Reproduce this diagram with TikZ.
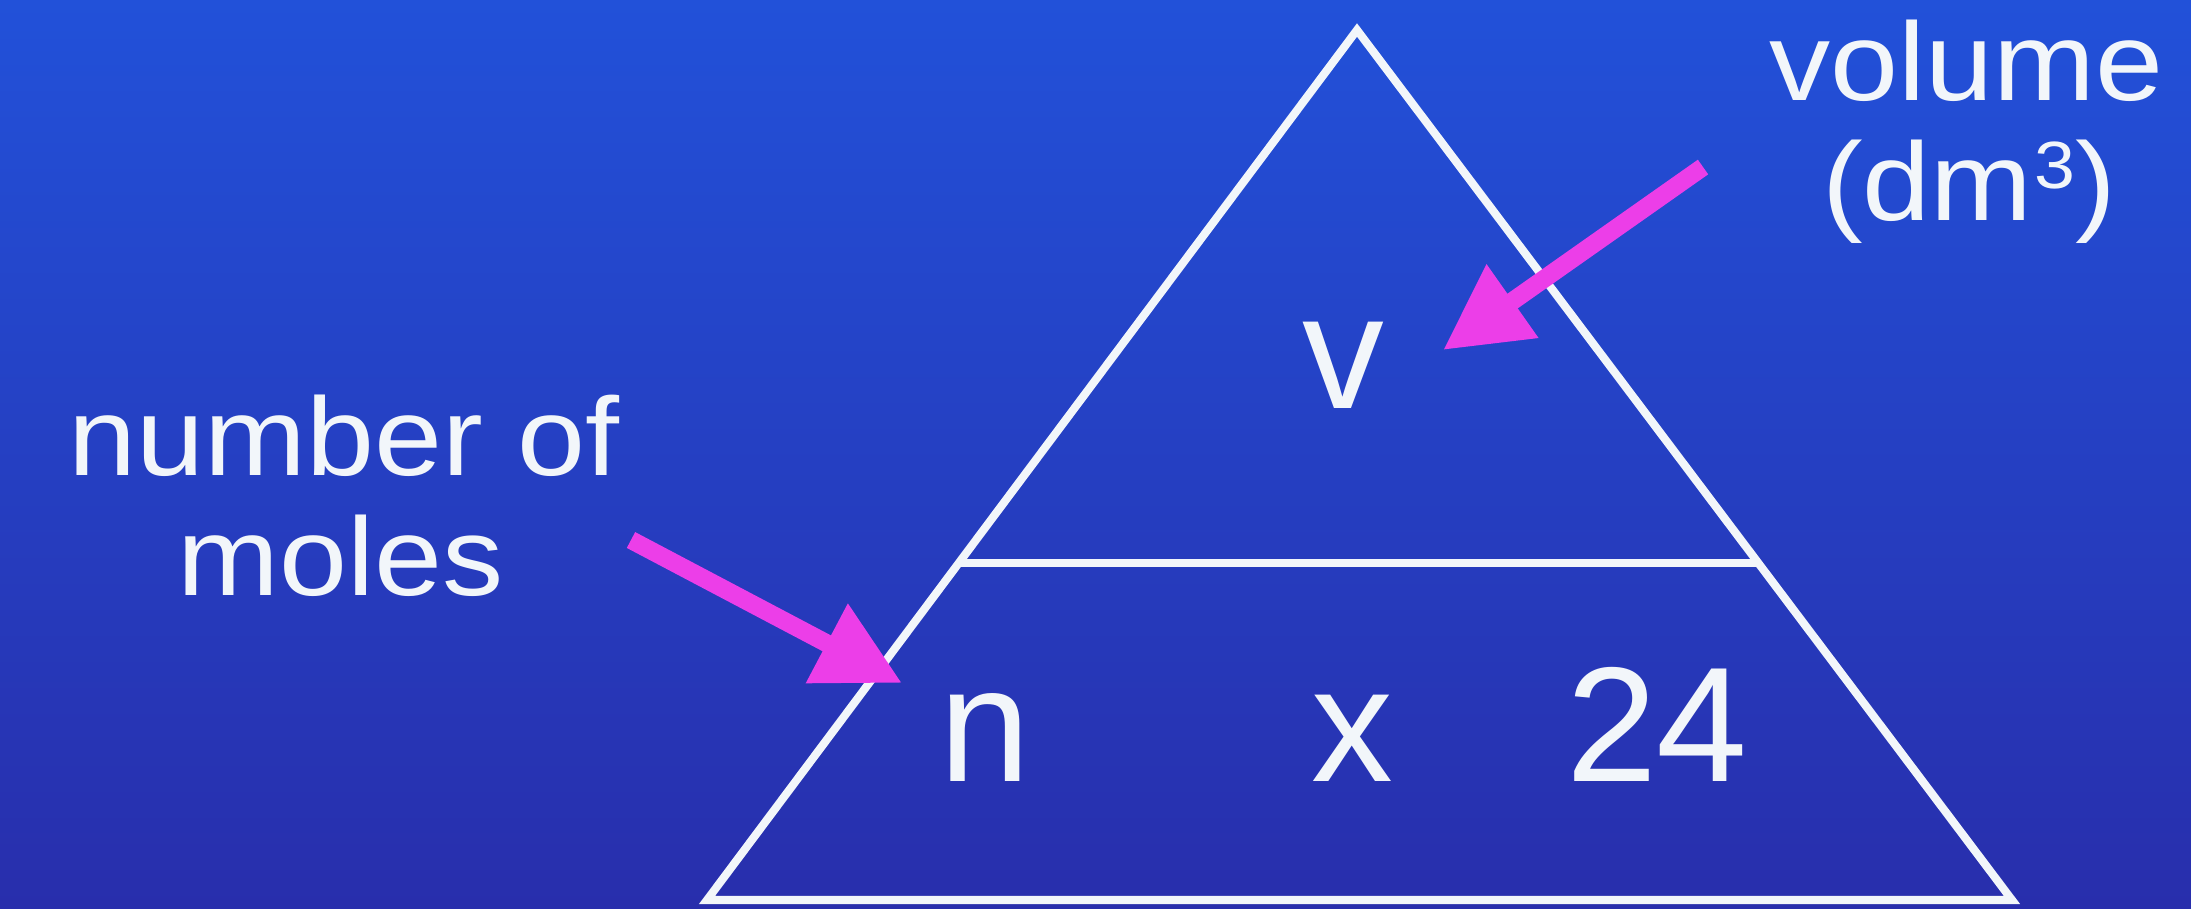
\documentclass[tikz,border=0pt]{standalone}
\usepackage{fontspec}
\setmainfont{Liberation Sans}
\newfontfamily\lblfont[FakeStretch=1.1]{Liberation Sans}
\usetikzlibrary{arrows.meta,calc}
\definecolor{bgtop}{RGB}{34,81,217}
\definecolor{bgbot}{RGB}{40,46,172}
\definecolor{mag}{RGB}{236,62,232}
\definecolor{ink}{RGB}{242,246,250}
\begin{document}
\begin{tikzpicture}[x=0.01cm,y=-0.01cm,
  tri/.style={draw=ink,line width=2.3pt,line join=miter},
  big/.style={text=ink,inner sep=0pt,anchor=base,font=\fontsize{46.5}{46.5}\selectfont},
  lbl/.style={text=ink,inner sep=0pt,anchor=base,font=\lblfont\fontsize{31.6}{31.6}\selectfont},
  marrow/.style={draw=mag,line width=5.1pt,-{Triangle[length=0.85cm,width=0.85cm]}}]
\useasboundingbox (0,0) rectangle (2191,908);
\shade[top color=bgtop,bottom color=bgbot] (0,0) rectangle (2191,908);
% triangle
\coordinate (apex) at (1357,30);
\coordinate (bl) at (707,900);
\coordinate (br) at (2012,900);
\coordinate (ml) at ($(apex)!0.6126!(bl)$);
\coordinate (mr) at ($(apex)!0.6126!(br)$);
\draw[tri] (apex) -- (br) -- (bl) -- cycle;
\draw[tri] (ml) -- (mr);
% formula
\node[big] (v) at (1343,408) {v};
\node[big] (n) at (985,781) {n};
\node[big] (x) at (1352,781) {x};
\node[big] (t) at (1657,781) {24};
% labels
\node[lbl] (vol1) at (1966,100) {volume};
\node[lbl] (vol2) at (1969,220) {(dm\kern0.5pt\raisebox{9pt}{\lblfont\fontsize{19}{19}\selectfont 3})};
\node[lbl] (mol1) at (344,475) {number of};
\node[lbl] (mol2) at (341,595) {moles};
% arrows
\coordinate (a1s) at (1703,167);
\coordinate (a1e) at (1443,350);
\coordinate (a2s) at (631,540);
\coordinate (a2e) at (902,683);
\draw[marrow] (a1s) -- (a1e);
\draw[marrow] (a2s) -- (a2e);
\end{tikzpicture}
\end{document}
